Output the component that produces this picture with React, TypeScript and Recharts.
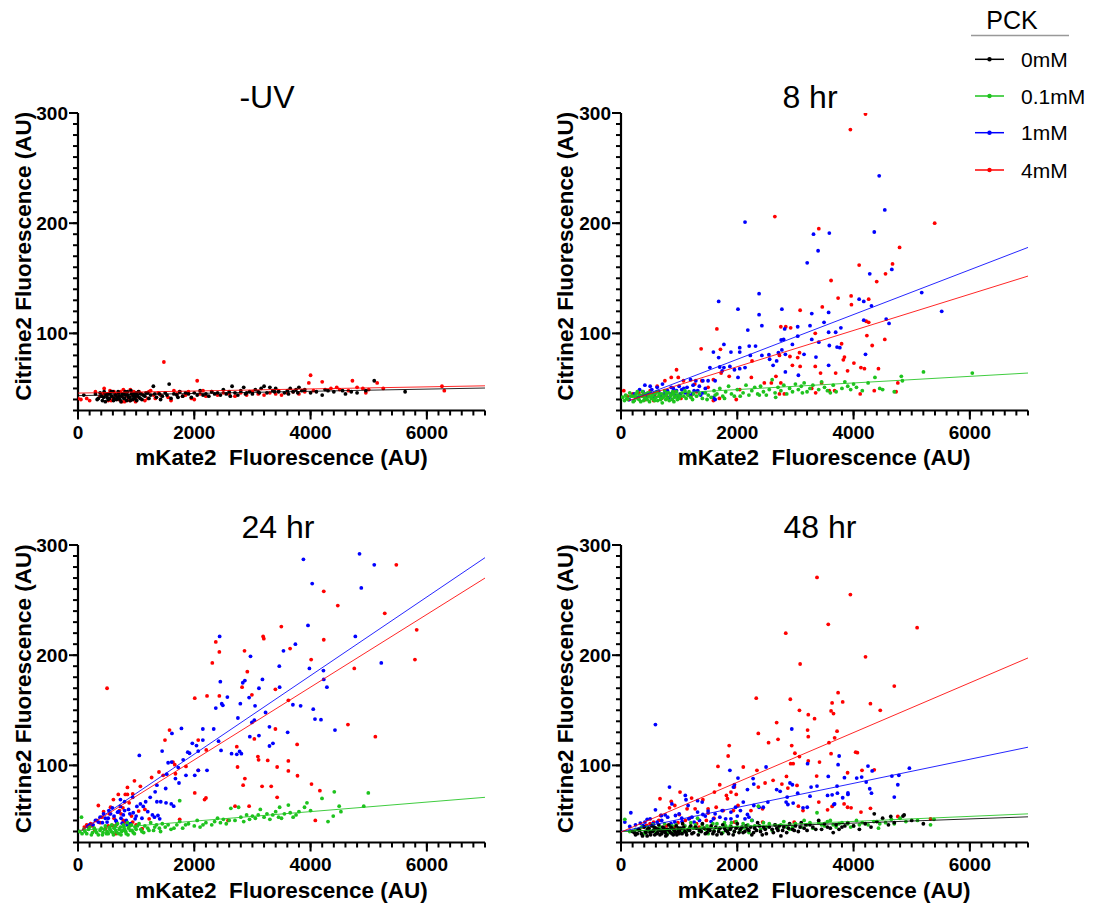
import { ScatterChart, Scatter, XAxis, YAxis } from 'recharts';

type Pt = [number, number];

const FONT = '"Liberation Sans", Arial, Helvetica, sans-serif';

// dose labels + colours (legend order)
const doseLabels = ['0mM', '0.1mM', '1mM', '4mM'];
const doseColors = ['#000000', '#1ec31e', '#0000ff', '#ff0000'];

const xTicks = [0, 200, 400, 600, 800, 1000, 1200, 1400, 1600, 1800, 2000, 2200, 2400, 2600, 2800, 3000, 3200, 3400, 3600, 3800, 4000, 4200, 4400, 4600, 4800, 5000, 5200, 5400, 5600, 5800, 6000, 6200, 6400, 6600, 6800, 7000];
const yTicks = [30, 40, 50, 60, 70, 80, 90, 100, 110, 120, 130, 140, 150, 160, 170, 180, 190, 200, 210, 220, 230, 240, 250, 260, 270, 280, 290, 300];
const xMajor = [0, 2000, 4000, 6000];
const yMajor = [100, 200, 300];

// ---- -UV ----
const uvBlack: Pt[] = [[100,44],[300,45],[330,40],[350,41],[380,46],[400,43],[420,39],[440,42],[450,47],[470,38],[480,44],[500,42],[510,45],[520,40],[540,41],[550,45],[570,47],[580,43],[600,47],[610,39],[620,41],[640,44],[650,44],[660,40],[680,42],[690,47],[700,46],[710,43],[720,40],[740,38],[750,43],[760,45],[780,45],[790,41],[800,41],[810,47],[820,44],[840,39],[850,47],[860,44],[870,42],[890,42],[900,39],[910,48],[920,45],[940,40],[950,43],[960,45],[980,41],[990,43],[1000,46],[1010,39],[1020,44],[1040,47],[1050,42],[1070,41],[1080,45],[1100,40],[1120,44],[1150,43],[1170,46],[1200,46],[1220,41],[1250,44],[1296,52],[1320,45],[1350,42],[1400,45],[1420,40],[1450,43],[1500,46],[1530,44],[1568,54],[1600,41],[1650,45],[1700,44],[1720,42],[1750,47],[1800,43],[1850,46],[1900,45],[1950,42],[2000,46],[2050,44],[2100,48],[2150,44],[2200,45],[2250,43],[2300,47],[2350,45],[2400,46],[2450,44],[2500,49],[2550,45],[2600,47],[2620,43],[2650,52],[2700,46],[2750,44],[2800,48],[2850,51],[2880,45],[2900,46],[2950,47],[3000,45],[3050,49],[3100,47],[3120,46],[3150,50],[3200,52],[3250,46],[3300,51],[3350,48],[3380,47],[3400,50],[3450,47],[3550,46],[3600,48],[3620,45],[3650,50],[3700,47],[3750,49],[3780,46],[3800,51],[3850,48],[3900,49],[4000,46],[4100,47],[4200,44],[4250,49],[4300,48],[4400,47],[4550,48],[4600,45],[4700,47],[4800,46],[4950,48],[5095,57],[5626,47]];
const uvRed: Pt[] = [[0,41],[50,40],[150,41],[200,39],[300,47],[380,43],[420,45],[450,50],[480,45],[500,44],[520,39],[550,48],[570,39],[600,42],[620,47],[640,45],[660,41],[690,44],[700,40],[730,47],[750,38],[760,43],[780,49],[800,38],[830,46],[850,43],[870,41],[890,39],[900,49],[920,45],[940,44],[960,47],[970,40],[990,38],[1000,42],[1020,44],[1050,47],[1100,45],[1150,39],[1200,41],[1220,47],[1250,48],[1300,44],[1330,41],[1380,46],[1420,44],[1477,74],[1550,42],[1600,39],[1650,48],[1700,45],[1750,47],[1800,43],[1850,44],[1900,47],[1950,41],[2000,40],[2050,57],[2100,45],[2150,48],[2200,43],[2300,47],[2400,44],[2500,46],[2600,45],[2700,43],[2800,46],[2900,44],[3000,47],[3100,45],[3200,44],[3300,46],[3400,45],[3450,48],[3500,44],[3600,46],[3700,47],[3800,45],[3900,47],[3970,55],[4000,62],[4050,48],[4200,56],[4350,50],[4450,51],[4500,49],[4650,48],[4720,57],[4800,51],[4900,50],[4950,46],[5000,49],[5145,55],[5250,50],[6260,52],[6300,48]];
const uvFitBlack: Pt[] = [[0,43.5],[7000,50.4]];
const uvFitRed: Pt[] = [[0,45.8],[7000,52.4]];

// ---- 8 hr ----
const hr8Green: Pt[] = [[30,42],[60,39],[80,44],[100,41],[120,40],[150,46],[170,43],[200,43],[210,38],[230,39],[250,42],[260,45],[280,47],[290,41],[310,40],[320,44],[340,38],[360,43],[370,47],[390,39],[400,42],[420,45],[430,41],[450,40],[460,46],[480,43],[490,38],[500,46],[520,41],[530,43],[550,44],[560,40],[580,39],[590,46],[600,42],[620,47],[630,39],[650,43],[660,45],[680,40],[690,41],[700,45],[710,37],[720,42],[740,43],[750,48],[770,40],[780,44],[790,46],[800,41],[820,46],[830,39],[850,43],[860,44],[880,40],[890,47],[900,45],[910,38],[920,42],[940,43],[950,47],[970,40],[980,44],[1000,41],[1020,43],[1050,46],[1080,43],[1100,48],[1120,41],[1150,44],[1170,47],[1200,42],[1230,40],[1250,45],[1300,43],[1350,45],[1400,41],[1450,46],[1480,40],[1500,44],[1550,42],[1600,48],[1620,44],[1650,45],[1700,50],[1750,43],[1780,41],[1800,47],[1850,52],[1900,45],[1950,43],[2000,49],[2050,43],[2100,46],[2150,53],[2200,44],[2250,48],[2300,51],[2350,45],[2380,44],[2400,52],[2450,47],[2500,44],[2550,49],[2600,58],[2650,46],[2660,42],[2700,51],[2750,48],[2800,53],[2850,45],[2900,50],[2950,47],[3000,54],[3050,49],[3100,52],[3120,46],[3150,55],[3200,47],[3250,50],[3300,53],[3400,49],[3450,56],[3500,51],[3550,48],[3600,46],[3650,53],[3700,47],[3800,50],[3850,56],[3900,52],[3950,49],[4000,54],[4050,51],[4150,48],[4250,55],[4368,60],[4450,50],[4500,49],[4700,47],[4821,61],[4840,57],[5202,65],[6042,64]];
const hr8Blue: Pt[] = [[139,40],[230,45],[300,42],[320,49],[380,47],[411,53],[450,44],[502,52],[530,49],[562,45],[580,42],[622,51],[650,47],[680,43],[713,54],[743,45],[800,48],[830,42],[864,51],[864,45],[900,50],[930,44],[955,48],[985,43],[1000,52],[1020,45],[1045,49],[1080,50],[1106,46],[1136,51],[1170,44],[1196,58],[1226,45],[1240,53],[1257,48],[1287,57],[1320,48],[1347,52],[1370,44],[1408,57],[1408,46],[1450,50],[1498,57],[1529,69],[1589,83],[1589,42],[1619,57],[1619,40],[1680,129],[1680,78],[1698,69.5],[1740,66],[1770,90],[1770,69],[1873,70],[1891,83],[1951,67],[2012,122],[2012,60],[2042,87],[2042,83],[2042,68],[2133,201],[2133,69],[2181,103],[2205,88.5],[2224,80],[2314,88.5],[2375,136],[2375,117],[2423,107],[2423,80],[2544,80.6],[2556,76.5],[2616,71],[2677,75],[2707,82.5],[2755,94],[2767,122],[2767,85],[2797,94.5],[2815,104],[2827,81],[2827,65],[2948,90],[3039,106],[3039,97.5],[3051,62],[3148,81],[3202,164],[3251,107],[3281,118],[3281,94.5],[3311,190],[3353,78.5],[3390,175],[3402,92],[3492,110],[3571,119],[3571,101],[3571,71],[3583,191],[3583,89],[3692,101],[3716,87.6],[3764,87],[3782,105],[4096,131],[4175,129],[4175,112],[4205,81],[4278,154],[4308,125],[4356,192],[4441,243],[4537,212],[4561,113],[4610,109],[4658,158],[5172,137],[5516,120]];
const hr8Red: Pt[] = [[48,48],[109,43],[200,45],[260,42],[308,46],[380,44],[420,40],[441,42],[502,48],[562,39],[580,44],[622,52],[700,41],[755,57],[800,42],[864,60],[900,47],[955,67],[985,60],[1030,41],[1075,57],[1150,45],[1200,43],[1269,54],[1300,47],[1378,86],[1390,57],[1498,51],[1589,58],[1589,39],[1649,104],[1692,41],[1710,85.5],[1722,64],[1861,61],[1982,40],[2042,49],[2242,60],[2254,75],[2465,55],[2586,55],[2646,206],[2665,61],[2725,80],[2725,45],[2749,106],[2749,55],[2809,45],[2834,106],[2906,79],[2918,105],[2948,71],[3039,78],[3070,82.5],[3081,121],[3081,70],[3280,50],[3341,100],[3341,70],[3348,46],[3402,195],[3432,64],[3450,55],[3462,124],[3582,48],[3613,148],[3674,48],[3692,64],[3734,132],[3794,90.6],[3824,76],[3843,78.5],[3897,66],[3945,285],[3958,134],[3963,126],[4006,73],[4096,162],[4114,45],[4126,69],[4187,68],[4205,299],[4217,111],[4229,98],[4260,131],[4260,110],[4320,89],[4356,48],[4398,147],[4428,68],[4537,94.5],[4549,154],[4670,163],[4731,47],[4761,55],[4791,178],[5395,200]];
const hr8FitGreen: Pt[] = [[0,43],[7000,64]];
const hr8FitBlue: Pt[] = [[130,38.5],[7000,178]];
const hr8FitRed: Pt[] = [[130,39],[7000,152]];

// ---- 24 hr ----
const hr24Green: Pt[] = [[30,40],[60,53],[70,38],[100,42],[120,40],[150,38],[180,42],[200,44],[230,37],[250,39],[280,43],[300,41],[320,39],[350,37],[380,41],[400,43],[420,37],[430,39],[450,42],[470,45],[490,38],[500,40],[520,38],[540,44],[550,42],[570,40],[580,46],[600,39],[610,37],[620,43],[640,45],[650,41],[670,39],[680,47],[700,38],[710,42],[730,44],[740,37],[750,40],[770,41],[780,46],[790,44],[800,42],[820,40],[830,38],[850,48],[860,37],[870,43],[890,45],[900,41],[920,46],[930,41],[950,39],[970,38],[980,44],[1000,42],[1020,45],[1050,47],[1080,42],[1100,40],[1130,39],[1150,45],[1200,43],[1220,41],[1250,48],[1300,41],[1320,44],[1350,46],[1400,43],[1420,40],[1450,47],[1500,44],[1550,46],[1600,42],[1650,43],[1700,46],[1749,68],[1750,49],[1800,43],[1850,46],[1900,47],[2000,45],[2050,50],[2100,44],[2150,46],[2200,48],[2300,46],[2350,49],[2400,52],[2450,48],[2500,51],[2550,47],[2600,50],[2629,61],[2700,50],[2762,62],[2800,53],[2850,49],[2900,55],[2950,51],[3000,54],[3050,52],[3100,55],[3136,60],[3200,53],[3250,56],[3300,51],[3350,55],[3400,58],[3450,53],[3468,62],[3500,52],[3550,56],[3618,64],[3650,57],[3700,53],[3750,55],[3800,58],[3896,62],[3938,66],[4000,59],[4197,70],[4300,49],[4390,54],[4408,76],[4492,63],[4522,58],[4915,63],[4993,75]];
const hr24Blue: Pt[] = [[169,44.5],[200,46],[259,46],[300,50],[350,48.5],[380,53],[420,48],[440,56],[470,52],[500,48.5],[520,52],[531,59],[560,56],[591,61.5],[620,54],[651,50],[660,49],[681,57.5],[700,58],[730,69],[730,62.7],[740,52],[760,47.5],[780,55],[802,67],[802,59],[830,50],[844,46],[870,60],[892,56],[900,47],[941,71],[950,57],[983,51.5],[1000,54],[1013,62.7],[1055,109],[1073,65],[1100,52],[1122,62.7],[1164,67],[1200,58],[1242,71],[1280,55],[1315,53],[1327,76],[1357,82],[1357,67],[1375,54.5],[1405,51.5],[1423,67],[1447,113],[1508,79],[1514,66],[1526,92],[1550,102.4],[1604,65],[1610,103],[1616,129],[1646,63],[1676,88],[1725,98],[1737,84],[1779,133.5],[1809,105],[1857,91],[1888,112],[1918,111],[1966,120],[2008,91],[2038,118],[2068,113],[2068,95.5],[2147,133],[2147,123],[2219,95.5],[2334,133],[2370,152],[2418,122],[2436,217],[2448,176],[2460,113.6],[2472,156],[2491,154.5],[2569,162],[2641,110.6],[2731,110],[2750,143],[2780,112.7],[2792,156],[2810,110.6],[2834,175],[2870,177],[2943,161.5],[2955,126],[2967,199],[2991,139],[3033,141],[3045,154],[3112,170],[3112,127],[3172,178],[3226,148],[3293,135],[3293,117.6],[3353,120],[3462,190],[3468,171],[3534,204],[3606,130],[3696,155],[3739,210],[3829,154],[3877,287],[3956,227],[3980,188],[4028,265],[4046,151],[4076,142],[4179,141.5],[4221,186],[4227,178],[4281,171],[4420,132],[4770,217],[4842,292],[4872,261],[5095,282],[5216,193]];
const hr24Red: Pt[] = [[109,44],[150,46],[217,47],[250,45],[289,41],[320,50],[350,63.6],[380,48],[410,53],[440,58],[470,42.5],[500,170],[520,45],[543,56],[560,62],[591,45.5],[609,69],[620,52],[651,38],[660,46],[693,73.6],[712,59],[740,56],[772,61.5],[780,50],[802,48.5],[814,73.6],[850,80],[850,73.6],[880,66],[920,54],[941,74],[941,48.5],[971,86],[1000,46],[1043,58.5],[1073,81],[1104,42.5],[1150,60],[1224,51.5],[1266,89],[1393,94],[1465,91],[1496,123],[1574,132],[1634,103],[1664,100.6],[1676,92.4],[1749,51],[1857,99],[2008,161],[2008,75],[2068,123],[2068,95.5],[2177,69],[2201,70.5],[2206,114],[2219,163],[2310,193],[2370,212],[2431,203],[2431,163],[2581,50],[2701,63],[2731,117],[2744,98.5],[2822,171],[2840,82],[2864,204],[2870,88],[2912,185],[2943,63],[2991,164],[3033,124],[3094,108],[3106,105],[3166,81],[3184,217],[3196,215],[3263,104.5],[3323,81],[3395,169],[3395,133],[3425,98.5],[3425,71],[3497,226],[3618,159],[3618,104],[3618,95],[3648,206],[3769,119],[3775,90.6],[4010,196],[4016,83],[4082,50],[4160,77],[4227,258],[4227,214],[4468,245],[4643,137],[4752,188],[5114,126],[5276,238],[5475,282],[5795,196],[5825,223]];
const hr24FitGreen: Pt[] = [[60,41],[7000,71]];
const hr24FitBlue: Pt[] = [[60,41],[7000,288.5]];
const hr24FitRed: Pt[] = [[60,41],[7000,270]];

// ---- 48 hr ----
const hr48Black: Pt[] = [[200,40],[230,39],[250,37],[280,38],[300,42],[320,41],[350,38],[370,36],[400,44],[420,40],[430,39],[450,36],[460,42],[480,43],[500,39],[510,37],[530,45],[540,40],[560,41],[570,44],[580,37],[600,43],[610,38],[630,39],[640,42],[650,46],[670,37],[680,41],[700,38],[710,40],[720,44],[740,43],[750,40],[760,39],[770,36],[790,37],[800,42],[820,46],[830,41],[850,39],[860,44],[870,43],[880,38],[900,37],[910,42],[920,41],[940,39],[950,45],[960,37],[980,40],[990,43],[1000,38],[1010,41],[1030,43],[1050,38],[1060,47],[1080,44],[1100,40],[1120,39],[1130,37],[1160,42],[1180,41],[1200,45],[1220,38],[1250,39],[1280,44],[1300,43],[1330,37],[1350,41],[1380,40],[1400,47],[1430,43],[1450,38],[1480,39],[1500,42],[1530,41],[1550,45],[1580,38],[1600,40],[1630,44],[1650,37],[1680,40],[1700,43],[1730,38],[1750,46],[1780,43],[1800,41],[1830,40],[1850,38],[1880,42],[1900,44],[1930,37],[1950,40],[1980,43],[2000,47],[2030,39],[2050,42],[2080,44],[2100,39],[2130,40],[2150,45],[2180,42],[2200,41],[2230,44],[2250,37],[2280,39],[2300,43],[2330,41],[2350,48],[2380,45],[2400,40],[2430,37],[2450,44],[2480,42],[2500,38],[2550,44],[2600,42],[2620,39],[2650,46],[2680,43],[2700,41],[2720,45],[2750,36],[2780,41],[2800,44],[2850,39],[2880,43],[2900,47],[2950,42],[2980,41],[3000,45],[3050,40],[3080,44],[3100,48],[3150,43],[3180,46],[3200,41],[3250,46],[3300,44],[3350,42],[3400,50],[3450,42],[3500,47],[3550,44],[3600,43],[3650,39],[3700,46],[3750,42],[3800,44],[3850,45],[3900,48],[4000,45],[4100,42],[4200,47],[4300,44],[4356,56],[4400,49],[4500,52],[4600,46],[4640,53.6],[4700,48],[4850,54],[4870,55],[5000,50],[5200,47]];
const hr48Green: Pt[] = [[66,51],[150,40],[250,42],[300,42],[350,44],[400,38],[450,44],[480,41],[500,40],[550,46],[580,43],[600,39],[650,43],[680,44],[700,41],[750,47],[780,40],[800,38],[850,44],[880,45],[900,40],[950,46],[980,43],[1000,42],[1050,39],[1080,41],[1100,45],[1150,41],[1180,44],[1200,48],[1250,43],[1280,46],[1317,52],[1350,40],[1380,43],[1400,46],[1450,42],[1480,45],[1500,38],[1550,44],[1580,47],[1600,41],[1650,47],[1680,42],[1700,43],[1750,39],[1780,48],[1800,45],[1850,42],[1880,45],[1900,48],[1950,40],[1980,49],[2000,44],[2050,41],[2080,43],[2100,47],[2150,43],[2180,46],[2200,39],[2250,50],[2300,45],[2362,63],[2400,42],[2450,48],[2500,44],[2550,47],[2600,41],[2650,46],[2700,43],[2750,46],[2800,49],[2850,44],[2900,42],[2950,44],[3000,47],[3100,44],[3150,50],[3200,46],[3250,48],[3300,43],[3371,57],[3400,48],[3450,46],[3500,45],[3550,49],[3600,50],[3650,46],[3700,44],[3750,47],[3800,48],[3900,47],[3950,44],[4000,45],[4050,50],[4100,46],[4150,48],[4250,46],[4350,49],[4429,43],[4450,47],[4550,48],[4650,51],[4700,47],[4800,52],[4900,49],[5100,50],[5323,46],[5383,51]];
const hr48Blue: Pt[] = [[66,48.5],[151,44.5],[169,57],[250,46],[332,47.6],[380,45.5],[411,48.5],[450,51],[501,51.5],[550,47],[592,137],[592,59.7],[622,48.5],[695,54.5],[700,50],[760,55],[803,53],[834,80.3],[860,47],[876,65],[925,48.5],[937,54.5],[1000,56],[1045,52],[1050,49],[1106,72.7],[1118,68.8],[1154,63.6],[1166,51.5],[1220,53],[1257,48.5],[1317,68],[1317,57.6],[1350,50],[1396,66.7],[1408,55.4],[1450,54],[1498,58.5],[1550,49],[1589,51.5],[1619,56],[1700,53],[1740,59],[1800,51.5],[1873,95.5],[1891,57.6],[1891,51.5],[1933,80.3],[1951,82.4],[1970,62],[2000,54],[2012,88.5],[2054,59],[2103,66.7],[2133,51.5],[2175,78],[2175,55.4],[2200,53],[2254,50],[2272,88],[2284,83],[2284,63.6],[2375,62],[2447,62],[2495,98.5],[2526,66.7],[2677,78],[2737,76.4],[2840,66.7],[2858,71.2],[2870,64.5],[2906,84],[2937,133],[2948,82.4],[2961,65.8],[3039,74.8],[3130,61.5],[3203,62],[3209,101.5],[3251,72],[3269,80.3],[3371,81.2],[3553,72.7],[3565,90],[3631,73.3],[3661,64.5],[3674,65],[3716,81.2],[3722,74.8],[3734,100.6],[3752,108.5],[3813,70.6],[3843,88.8],[3903,73.6],[3903,75],[4054,88.5],[4139,89.4],[4217,84.8],[4248,99.4],[4278,78.8],[4308,74.8],[4320,95],[4659,90.3],[4700,71.2],[4761,82.4],[4779,91],[4960,97.5]];
const hr48Red: Pt[] = [[248,38],[320,42.4],[380,44],[441,45.5],[500,47],[562,48.5],[650,50],[671,69.7],[683,54.5],[780,45],[834,61.5],[864,67.3],[925,63.6],[925,44],[980,48],[1003,55.4],[1015,75.8],[1106,50],[1136,60.6],[1180,52],[1214,70.3],[1275,60.6],[1300,47],[1347,44],[1408,68.8],[1468,50],[1498,60.6],[1498,56.7],[1600,52],[1607,75.8],[1637,62],[1668,99],[1698,82.4],[1758,59],[1813,72.7],[1831,69.7],[1843,108.5],[1861,118],[1891,75.8],[1933,59],[1951,80.3],[1951,48.5],[1982,73.6],[2012,63.6],[2103,98.5],[2235,59],[2326,161],[2338,95.5],[2362,129],[2362,80.3],[2435,60.6],[2435,48.5],[2478,84],[2538,120.6],[2616,86.4],[2677,138.8],[2701,123.6],[2767,83],[2834,220],[2846,90],[2870,79.4],[2912,160],[2918,101.5],[2936,118],[2961,101.5],[2979,48.5],[2991,111],[3027,81.8],[3051,63],[3069,150],[3069,108],[3081,192],[3130,59],[3209,132],[3221,146],[3221,126],[3221,104],[3329,142.4],[3365,90.3],[3371,270.6],[3402,66.7],[3414,103],[3553,59.7],[3565,228],[3577,120.6],[3613,149.4],[3613,110.6],[3631,156.7],[3631,62.7],[3655,147],[3674,125],[3716,131],[3734,166],[3813,157.6],[3837,65],[3897,93.3],[3897,62],[3945,255],[3957,61.5],[4036,112],[4066,111.5],[4127,57.6],[4145,95.5],[4205,198.5],[4290,156],[4290,61],[4356,96],[4459,150],[4700,172],[4761,53.6],[5093,225],[5323,51.5]];
const hr48FitBlack: Pt[] = [[0,40],[7000,53.3]];
const hr48FitGreen: Pt[] = [[0,40],[7000,56]];
const hr48FitBlue: Pt[] = [[0,40],[7000,116.5]];
const hr48FitRed: Pt[] = [[0,39.5],[7000,197.5]];

const rows = (pts: Pt[]) => pts.map(([x, y]) => ({ x, y }));

const BLACK = doseColors[0];
const GREEN = doseColors[1];
const BLUE = doseColors[2];
const RED = doseColors[3];

const panels = [
  {
    key: 'uv', title: '-UV', left: 78, top: 112.5, titleX: 267, titleY: 108,
    series: [{ c: RED, pts: uvRed }, { c: BLACK, pts: uvBlack }],
    fits: [{ c: BLACK, pts: uvFitBlack }, { c: RED, pts: uvFitRed }],
  },
  {
    key: 'h8', title: '8 hr', left: 620.6, top: 112.5, titleX: 810, titleY: 108,
    series: [{ c: RED, pts: hr8Red }, { c: BLUE, pts: hr8Blue }, { c: GREEN, pts: hr8Green }],
    fits: [{ c: GREEN, pts: hr8FitGreen }, { c: BLUE, pts: hr8FitBlue }, { c: RED, pts: hr8FitRed }],
  },
  {
    key: 'h24', title: '24 hr', left: 78, top: 545, titleX: 278, titleY: 538,
    series: [{ c: RED, pts: hr24Red }, { c: BLUE, pts: hr24Blue }, { c: GREEN, pts: hr24Green }],
    fits: [{ c: GREEN, pts: hr24FitGreen }, { c: BLUE, pts: hr24FitBlue }, { c: RED, pts: hr24FitRed }],
  },
  {
    key: 'h48', title: '48 hr', left: 620.6, top: 545, titleX: 820, titleY: 538,
    series: [{ c: RED, pts: hr48Red }, { c: BLUE, pts: hr48Blue }, { c: GREEN, pts: hr48Green }, { c: BLACK, pts: hr48Black }],
    fits: [{ c: BLACK, pts: hr48FitBlack }, { c: GREEN, pts: hr48FitGreen }, { c: BLUE, pts: hr48FitBlue }, { c: RED, pts: hr48FitRed }],
  },
];

const PLOT_W = 407;
const PLOT_H = 297.5;
const TICK = 5; // minor tick length, drawn by recharts' own tickLine

// recharts hands the tick x/y already pushed out by TICK px
function XTick(props: any) {
  const x = Number(props.x);
  const y = Number(props.y);
  const v = props.payload?.value;
  if (!xMajor.includes(v)) return <g />;
  return (
    <g>
      <path d={`M${x},${y - TICK}v9`} stroke="#000" strokeWidth={2} fill="none" />
      <text x={x} y={y - TICK + 28} textAnchor="middle" fontSize={19} fontWeight="bold" fontFamily={FONT} fill="#000">
        {v}
      </text>
    </g>
  );
}

function YTick(props: any) {
  const x = Number(props.x);
  const y = Number(props.y);
  const v = props.payload?.value;
  if (!yMajor.includes(v)) return <g />;
  return (
    <g>
      <path d={`M${x + TICK},${y}h-9`} stroke="#000" strokeWidth={2} fill="none" />
      <text x={x + TICK - 10} y={y + 7} textAnchor="end" fontSize={19} fontWeight="bold" fontFamily={FONT} fill="#000">
        {v}
      </text>
    </g>
  );
}

function Panel({ p }: { p: (typeof panels)[number] }) {
  return (
    <div style={{ position: 'absolute', left: p.left - 78, top: p.top - 60 }}>
      <ScatterChart width={14 + 64 + PLOT_W + 20} height={60 + PLOT_H + 60} margin={{ top: 60, right: 20, bottom: 0, left: 14 }}>
        <XAxis
          type="number"
          dataKey="x"
          domain={[0, 7000]}
          ticks={xTicks}
          interval={0}
          tickSize={TICK}
          tickMargin={0}
          tickLine={{ stroke: '#000', strokeWidth: 2 }}
          tick={(t: any) => <XTick {...t} />}
          axisLine={{ stroke: '#000', strokeWidth: 2.2 }}
          height={60}
          allowDataOverflow
        />
        <YAxis
          type="number"
          dataKey="y"
          domain={[30, 300]}
          ticks={yTicks}
          interval={0}
          tickSize={TICK}
          tickMargin={0}
          tickLine={{ stroke: '#000', strokeWidth: 2 }}
          tick={(t: any) => <YTick {...t} />}
          axisLine={{ stroke: '#000', strokeWidth: 2.2 }}
          width={64}
          allowDataOverflow
        />
        {p.series.map((s, i) => (
          <Scatter
            key={`s-${i}`}
            data={rows(s.pts)}
            fill={s.c}
            isAnimationActive={false}
            shape={(d: any) => <circle cx={d.cx} cy={d.cy} r={1.9} fill={s.c} />}
          />
        ))}
        {p.fits.map((f, i) => (
          <Scatter
            key={`f-${i}`}
            data={rows(f.pts)}
            line={{ stroke: f.c, strokeWidth: 1, strokeOpacity: 0.85 }}
            isAnimationActive={false}
            shape={() => <g />}
          />
        ))}
      </ScatterChart>
    </div>
  );
}

const legendRows = [59.3, 96, 132.7, 170];

export default function App() {
  return (
    <div style={{ position: 'absolute', left: 0, top: 0, width: 1098, height: 905, overflow: 'hidden', background: '#fff' }}>
      {panels.map((p) => (
        <Panel key={p.key} p={p} />
      ))}
      <svg width={1098} height={905} style={{ position: 'absolute', left: 0, top: 0, pointerEvents: 'none' }} fontFamily={FONT}>
        {panels.map((p) => {
          const cx = p.left + PLOT_W / 2;
          const cy = p.top + PLOT_H / 2 - 5;
          const lx = p.left - 55;
          return (
            <g key={`t-${p.key}`}>
              <text x={p.titleX} y={p.titleY} textAnchor="middle" fontSize={32} fill="#000">{p.title}</text>
              <text x={cx} y={p.top + PLOT_H + 55} textAnchor="middle" fontSize={22.5} fontWeight="bold" fill="#000" style={{ whiteSpace: 'pre' }}>
                {'mKate2  Fluorescence (AU)'}
              </text>
              <text x={lx} y={cy} textAnchor="middle" dominantBaseline="central" fontSize={22.5} fontWeight="bold" fill="#000" transform={`rotate(-90 ${lx} ${cy})`}>
                Citrine2 Fluorescence (AU)
              </text>
            </g>
          );
        })}
        <text x={1012} y={29} textAnchor="middle" fontSize={25} fill="#000">PCK</text>
        <line x1={971} x2={1069} y1={35.5} y2={35.5} stroke="#999" strokeWidth={1.3} />
        {doseLabels.map((lab, i) => (
          <g key={lab}>
            <line x1={975} x2={1004} y1={legendRows[i]} y2={legendRows[i]} stroke={doseColors[i]} strokeWidth={1.5} />
            <circle cx={989.5} cy={legendRows[i]} r={2.2} fill={doseColors[i]} />
            <text x={1021} y={legendRows[i] + 7.5} fontSize={21} fill="#000">{lab}</text>
          </g>
        ))}
      </svg>
    </div>
  );
}
